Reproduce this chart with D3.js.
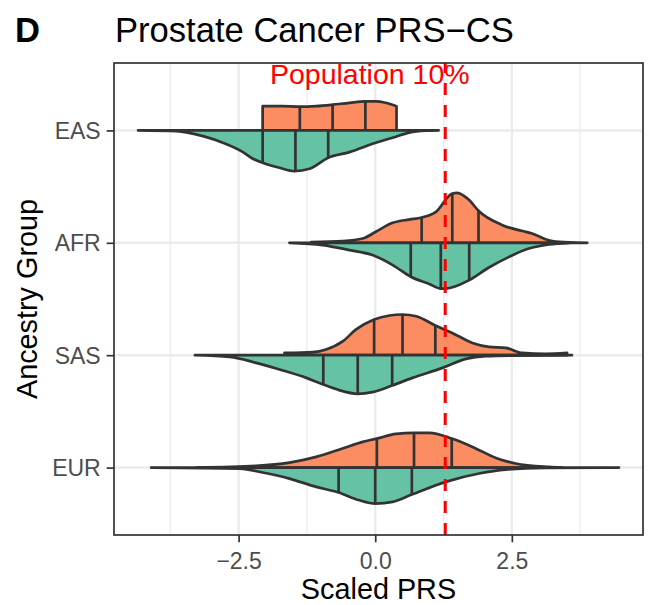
<!DOCTYPE html>
<html>
<head>
<meta charset="utf-8">
<script src="https://cdn.jsdelivr.net/npm/d3@7"></script>
<style>
  body { margin: 0; background: #fff; }
  text { font-family: "Liberation Sans", Arial, Helvetica, sans-serif; }
</style>
</head>
<body>
<div id="vis"></div>
<script>
// groups, top to bottom
let groups = ["EAS", "AFR", "SAS", "EUR"];

// density outlines: [score, half width in category units]
// upper half (orange)
let easUpper = [[-2.06,0.216],[-1.7,0.216],[-1.38,0.211],[-1.08,0.216],[-0.78,0.229],[-0.47,0.246],[-0.18,0.258],[0.01,0.258],[0.19,0.246],[0.39,0.216]];
let afrUpper = [[-1.17,0.006],[-0.59,0.015],[-0.23,0.038],[0.01,0.098],[0.32,0.178],[0.62,0.207],[0.85,0.225],[1.11,0.276],[1.41,0.439],[1.5,0.445],[1.72,0.38],[1.89,0.285],[2.33,0.157],[2.87,0.083],[3.24,0.015],[3.55,0.003],[3.88,0]];
let sasUpper = [[-1.66,0.02],[-1.14,0.027],[-0.9,0.051],[-0.59,0.125],[-0.35,0.229],[-0.02,0.318],[0.26,0.353],[0.5,0.362],[0.75,0.347],[1.1,0.264],[1.41,0.198],[1.78,0.109],[2.08,0.074],[2.39,0.065],[2.69,0.02],[3.12,0.012],[3.51,0.02]];
let eurUpper = [[-3.27,0],[-2.18,0.015],[-1.57,0.044],[-1.08,0.095],[-0.6,0.169],[-0.23,0.229],[0.03,0.258],[0.38,0.3],[0.71,0.309],[0.99,0.309],[1.4,0.258],[1.78,0.184],[2.21,0.086],[2.57,0.036],[3.18,0.006],[3.42,0]];
// lower half (green)
let easLower = [[-4.34,0],[-3.64,0.006],[-3.15,0.051],[-2.79,0.109],[-2.42,0.193],[-2.24,0.252],[-2.06,0.287],[-1.75,0.332],[-1.48,0.362],[-1.2,0.341],[-0.86,0.243],[-0.47,0.193],[0.01,0.109],[0.32,0.065],[0.62,0.02],[0.93,0.003],[1.16,0]];
let afrLower = [[-1.57,0],[-0.96,0.02],[-0.47,0.065],[-0.05,0.109],[0.32,0.198],[0.65,0.302],[0.99,0.367],[1.2,0.407],[1.29,0.407],[1.72,0.332],[2.08,0.22],[2.45,0.125],[2.81,0.051],[3.18,0.015],[3.55,0]];
let sasLower = [[-3.3,0],[-2.66,0.015],[-2.18,0.068],[-1.75,0.127],[-1.26,0.202],[-0.95,0.261],[-0.66,0.311],[-0.32,0.344],[-0.05,0.329],[0.31,0.27],[0.68,0.202],[1.23,0.113],[1.66,0.033],[2.02,0.009],[2.5,0.003],[3.6,0]];
let eurLower = [[-4.1,0],[-2.48,0.009],[-2.06,0.044],[-1.57,0.098],[-1.08,0.172],[-0.67,0.222],[-0.29,0.291],[0.0,0.32],[0.32,0.305],[0.67,0.24],[1.29,0.127],[1.9,0.053],[2.39,0.018],[3.12,0.003],[4.46,0]];

// quartile lines (25%, 50%, 75%)
let upperQuartiles = [[-1.38,-0.78,-0.18],[0.85,1.41,1.89],[-0.02,0.5,1.1],[0.03,0.71,1.4]];
let lowerQuartiles = [[-2.06,-1.46,-0.86],[0.65,1.2,1.72],[-0.95,-0.32,0.31],[-0.67,0.0,0.67]];

let upperCurves = [easUpper, afrUpper, sasUpper, eurUpper];
let lowerCurves = [easLower, afrLower, sasLower, eurLower];

// population threshold and its label
let threshold = 1.2816;
let thresholdLabel = "Population 10%";
let labelX = -0.1;

let xTicks = [-2.5, 0, 2.5];
let xMinor = [-3.75, -1.25, 1.25, 3.75];

let W = 651, H = 605;
let margin = { top: 63, left: 114, right: 8, bottom: 70 };
let pw = W - margin.left - margin.right,
    ph = H - margin.top - margin.bottom;

let svg = d3.select('#vis')
  .append('svg')
  .attr('width', W)
  .attr('height', H)
  .style('background-color', 'white');

// x extent from the data with ggplot style 5% expansion
let allX = upperCurves.concat(lowerCurves).flat().map(d => d[0]);
let lo = d3.min(allX), hi = d3.max(allX), pad = (hi - lo) * 0.05;

let x = d3.scaleLinear()
  .domain([lo - pad, hi + pad])
  .range([margin.left, margin.left + pw]);

let y = d3.scalePoint()
  .domain(groups)
  .range([margin.top, margin.top + ph])
  .padding(0.6);

let w = d3.scaleLinear().domain([0, 1]).range([0, y.step()]);

// grid
let grid = svg.append('g');
grid.selectAll('.minor').data(xMinor).join('line')
  .attr('x1', d => x(d)).attr('x2', d => x(d))
  .attr('y1', margin.top).attr('y2', margin.top + ph)
  .attr('stroke', '#ebebeb').attr('stroke-width', 1.2);
grid.selectAll('.majorx').data(xTicks).join('line')
  .attr('x1', d => x(d)).attr('x2', d => x(d))
  .attr('y1', margin.top).attr('y2', margin.top + ph)
  .attr('stroke', '#ebebeb').attr('stroke-width', 2.4);
grid.selectAll('.majory').data(groups).join('line')
  .attr('x1', margin.left).attr('x2', margin.left + pw)
  .attr('y1', d => y(d)).attr('y2', d => y(d))
  .attr('stroke', '#ebebeb').attr('stroke-width', 2.4);

// height of a smoothed curve at a given score (sampled from the drawn path)
function heightAt(pts, sign, cy, xv) {
  let line = d3.line().x(d => x(d[0])).y(d => cy + sign * w(d[1])).curve(d3.curveMonotoneX);
  let tmp = svg.append('path').attr('d', line(pts));
  let node = tmp.node(), len = node.getTotalLength();
  let target = x(xv), best = null, bd = Infinity;
  for (let i = 0; i <= 800; i++) {
    let p = node.getPointAtLength(len * i / 800);
    if (Math.abs(p.x - target) < bd) { bd = Math.abs(p.x - target); best = p; }
  }
  tmp.remove();
  return best.y;
}

function drawHalf(g, pts, sign, cy, fill, quarts) {
  let area = d3.area()
    .x(d => x(d[0]))
    .y0(cy)
    .y1(d => cy + sign * w(d[1]))
    .curve(d3.curveMonotoneX);
  g.append('path')
    .attr('d', area(pts))
    .attr('fill', fill)
    .attr('stroke', '#333333')
    .attr('stroke-width', 2.7)
    .attr('stroke-linejoin', 'round');
  quarts.forEach(q => {
    g.append('line')
      .attr('x1', x(q)).attr('x2', x(q))
      .attr('y1', cy).attr('y2', heightAt(pts, sign, cy, q))
      .attr('stroke', '#333333')
      .attr('stroke-width', 2.7);
  });
}

let violins = svg.append('g');
groups.forEach((grp, i) => {
  let cy = y(grp);
  let g = violins.append('g');
  drawHalf(g, upperCurves[i], -1, cy, '#fc8d62', upperQuartiles[i]);
  drawHalf(g, lowerCurves[i], 1, cy, '#66c2a5', lowerQuartiles[i]);
});

// threshold line
svg.append('line')
  .attr('x1', x(threshold)).attr('x2', x(threshold))
  .attr('y1', margin.top + ph).attr('y2', margin.top)
  .attr('stroke', '#ff0000')
  .attr('stroke-width', 3)
  .attr('stroke-dasharray', '12,10');

svg.append('text')
  .attr('x', x(labelX))
  .attr('y', margin.top + 21)
  .attr('text-anchor', 'middle')
  .attr('fill', '#ff0000')
  .style('font-size', '28.5px')
  .text(thresholdLabel);

// panel border
svg.append('rect')
  .attr('x', margin.left).attr('y', margin.top)
  .attr('width', pw).attr('height', ph)
  .attr('fill', 'none')
  .attr('stroke', '#333333')
  .attr('stroke-width', 1.7);

// axes
let xAxis = svg.append('g')
  .attr('transform', `translate(0,${margin.top + ph})`)
  .call(d3.axisBottom(x).tickValues(xTicks).tickSize(7.3).tickPadding(10).tickFormat(d3.format('.1f')));
let yAxis = svg.append('g')
  .attr('transform', `translate(${margin.left},0)`)
  .call(d3.axisLeft(y).tickSize(7.3).tickPadding(6));

[xAxis, yAxis].forEach(a => {
  a.select('.domain').remove();
  a.selectAll('.tick line').attr('stroke', '#333333').attr('stroke-width', 1.7);
  a.selectAll('.tick text')
    .attr('fill', '#4d4d4d')
    .style('font-size', '23px')
    .style('font-family', '"Liberation Sans", Arial, sans-serif');
});
yAxis.selectAll('.tick text').attr('dy', '0.35em');

// titles
svg.append('text')
  .attr('x', 15).attr('y', 42)
  .style('font-size', '34.6px').style('font-weight', 'bold')
  .text('D');
svg.append('text')
  .attr('x', margin.left + 1).attr('y', 42)
  .style('font-size', '34.6px')
  .text('Prostate Cancer PRS\u2212CS');

svg.append('text')
  .attr('x', margin.left + pw / 2).attr('y', 599)
  .attr('text-anchor', 'middle')
  .style('font-size', '28.8px')
  .text('Scaled PRS');

svg.append('text')
  .attr('transform', `translate(37,${margin.top + ph / 2}) rotate(-90)`)
  .attr('text-anchor', 'middle')
  .style('font-size', '28.8px')
  .text('Ancestry Group');
</script>
</body>
</html>
